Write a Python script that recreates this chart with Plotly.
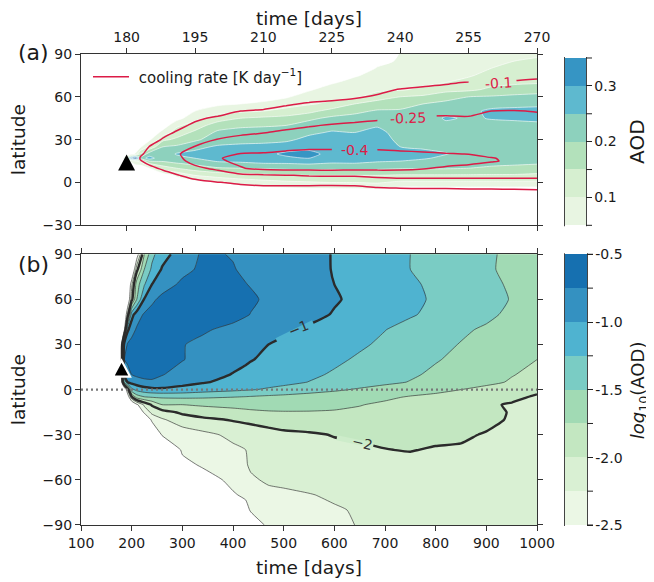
import plotly.graph_objects as go

FONT = "DejaVu Sans"
TXT = "#1a1a1a"

# ---------- panel (a): AOD and cooling rate, time 170..270 days ----------
time_a = [170, 179, 181, 182, 183, 185, 188, 191, 195, 200, 205, 210, 215, 220, 225, 230, 235, 240, 245, 250, 255, 260, 265, 270]
lat_a = [-30, -10, -5, 0, 5, 10, 15, 17, 20, 25, 30, 35, 40, 45, 50, 55, 60, 65, 70, 75, 80, 85, 90]

# one list per time, values listed along lat_a
aod_by_time = [
    [0, 0, 0, 0, 0, 0, 0, 0, 0, 0, 0, 0, 0, 0, 0, 0, 0, 0, 0, 0, 0, 0, 0],
    [0, 0, 0, 0, 0, 0, 0, 0, 0, 0, 0, 0, 0, 0, 0, 0, 0, 0, 0, 0, 0, 0, 0],
    [0, 0, 0, 0, 0, 0, .06, .34, .03, 0, 0, 0, 0, 0, 0, 0, 0, 0, 0, 0, 0, 0, 0],
    [0, 0, 0, 0, 0, 0, .10, .42, .06, 0, 0, 0, 0, 0, 0, 0, 0, 0, 0, 0, 0, 0, 0],
    [0, 0, 0, 0, 0, 0, .115, .22, .15, .04, 0, 0, 0, 0, 0, 0, 0, 0, 0, 0, 0, 0, 0],
    [0, 0, 0, 0, 0, .05, .2, .27, .225, .11, .04, 0, 0, 0, 0, 0, 0, 0, 0, 0, 0, 0, 0],
    [0, 0, 0, 0, .02, .125, .205, .215, .22, .2, .14, .07, .02, 0, 0, 0, 0, 0, 0, 0, 0, 0, 0],
    [0, 0, 0, .01, .06, .15, .22, .235, .255, .21, .16, .125, .09, .03, 0, 0, 0, 0, 0, 0, 0, 0, 0],
    [0, 0, 0, .03, .1, .175, .23, .25, .26, .24, .19, .16, .125, .085, .05, .01, 0, 0, 0, 0, 0, 0, 0],
    [0, 0, .01, .05, .12, .195, .255, .26, .27, .255, .23, .21, .175, .125, .08, .04, 0, 0, 0, 0, 0, 0, 0],
    [0, 0, .02, .07, .13, .2, .26, .27, .275, .26, .235, .22, .19, .15, .09, .05, .01, 0, 0, 0, 0, 0, 0],
    [0, 0, .03, .08, .14, .205, .27, .29, .285, .26, .24, .22, .195, .16, .1, .06, .03, 0, 0, 0, 0, 0, 0],
    [0, 0, .035, .09, .145, .21, .27, .29, .31, .275, .24, .22, .2, .165, .12, .075, .045, .01, 0, 0, 0, 0, 0],
    [0, 0, .04, .095, .15, .215, .275, .3, .315, .285, .265, .24, .22, .19, .135, .095, .07, .045, .01, 0, 0, 0, 0],
    [0, 0, .04, .1, .15, .21, .265, .275, .285, .28, .27, .255, .23, .21, .17, .11, .09, .07, .045, 0, 0, 0, 0],
    [0, 0, .04, .1, .15, .215, .265, .27, .275, .275, .265, .25, .235, .215, .19, .15, .09, .08, .065, .045, 0, 0, 0],
    [0, 0, .045, .105, .15, .21, .255, .26, .265, .27, .27, .265, .245, .225, .205, .175, .125, .09, .08, .065, .055, .03, .02],
    [0, 0, .025, .09, .145, .205, .25, .255, .26, .25, .24, .23, .225, .215, .205, .185, .15, .095, .085, .075, .065, .058, .052],
    [0, 0, .025, .09, .145, .205, .24, .255, .26, .245, .235, .23, .23, .225, .215, .2, .16, .11, .09, .08, .07, .06, .055],
    [0, 0, .025, .09, .145, .205, .23, .24, .252, .24, .235, .23, .24, .255, .235, .215, .18, .135, .1, .085, .075, .065, .06],
    [0, 0, .025, .09, .145, .2, .225, .23, .235, .235, .23, .23, .235, .245, .24, .22, .2, .14, .115, .095, .08, .07, .065],
    [0, 0, .025, .09, .145, .19, .225, .23, .23, .23, .23, .23, .24, .252, .258, .235, .205, .16, .135, .115, .1, .08, .07],
    [0, 0, .025, .09, .145, .185, .22, .225, .23, .23, .23, .23, .24, .255, .26, .24, .21, .175, .14, .125, .11, .1, .08],
    [0, 0, .025, .09, .14, .18, .215, .22, .23, .23, .23, .23, .24, .26, .265, .24, .215, .18, .145, .13, .115, .105, .095],
]

cooling_by_time = [
    [0, 0, 0, 0, 0, 0, 0, 0, 0, 0, 0, 0, 0, 0, 0, 0, 0, 0, 0, 0, 0, 0, 0],
    [0, 0, 0, 0, 0, 0, 0, 0, 0, 0, 0, 0, 0, 0, 0, 0, 0, 0, 0, 0, 0, 0, 0],
    [0, 0, 0, 0, 0, 0, 0, 0, 0, 0, 0, 0, 0, 0, 0, 0, 0, 0, 0, 0, 0, 0, 0],
    [0, 0, 0, 0, 0, 0, 0, 0, 0, 0, 0, 0, 0, 0, 0, 0, 0, 0, 0, 0, 0, 0, 0],
    [0, 0, 0, 0, 0, 0, -.09, -.11, -.08, 0, 0, 0, 0, 0, 0, 0, 0, 0, 0, 0, 0, 0, 0],
    [0, 0, 0, 0, 0, -.07, -.14, -.15, -.14, -.105, -.05, 0, 0, 0, 0, 0, 0, 0, 0, 0, 0, 0, 0],
    [0, 0, 0, 0, -.05, -.12, -.17, -.18, -.17, -.14, -.11, -.07, 0, 0, 0, 0, 0, 0, 0, 0, 0, 0, 0],
    [0, 0, 0, -.03, -.09, -.17, -.22, -.23, -.24, -.19, -.15, -.11, -.07, 0, 0, 0, 0, 0, 0, 0, 0, 0, 0],
    [0, 0, 0, -.06, -.15, -.23, -.28, -.29, -.29, -.255, -.19, -.16, -.12, -.08, 0, 0, 0, 0, 0, 0, 0, 0, 0],
    [0, 0, -.03, -.095, -.2, -.27, -.38, -.39, -.37, -.31, -.255, -.2, -.17, -.12, -.05, 0, 0, 0, 0, 0, 0, 0, 0],
    [0, 0, -.06, -.115, -.22, -.39, -.43, -.44, -.405, -.34, -.28, -.23, -.18, -.14, -.1, -.05, 0, 0, 0, 0, 0, 0, 0],
    [0, 0, -.07, -.125, -.23, -.44, -.47, -.48, -.41, -.35, -.31, -.245, -.2, -.16, -.115, -.05, 0, 0, 0, 0, 0, 0, 0],
    [0, 0, -.07, -.125, -.245, -.45, -.5, -.5, -.43, -.36, -.32, -.27, -.22, -.18, -.13, -.09, -.03, 0, 0, 0, 0, 0, 0],
    [0, 0, -.07, -.125, -.26, -.45, -.5, -.51, -.45, -.37, -.33, -.29, -.24, -.19, -.15, -.11, -.06, 0, 0, 0, 0, 0, 0],
    [0, 0, -.065, -.125, -.27, -.45, -.5, -.51, -.45, -.37, -.33, -.3, -.26, -.2, -.16, -.12, -.075, -.02, 0, 0, 0, 0, 0],
    [0, 0, -.07, -.125, -.27, -.44, -.5, -.5, -.44, -.37, -.34, -.31, -.27, -.22, -.17, -.13, -.09, -.04, 0, 0, 0, 0, 0],
    [0, 0, -.08, -.15, -.29, -.44, -.5, -.5, -.44, -.37, -.34, -.31, -.28, -.235, -.18, -.15, -.11, -.08, -.02, 0, 0, 0, 0],
    [0, 0, -.085, -.16, -.31, -.43, -.49, -.49, -.43, -.36, -.34, -.31, -.28, -.24, -.19, -.16, -.13, -.105, -.05, 0, 0, 0, 0],
    [0, 0, -.09, -.16, -.31, -.41, -.47, -.47, -.42, -.35, -.33, -.31, -.28, -.265, -.21, -.17, -.14, -.12, -.07, 0, 0, 0, 0],
    [0, 0, -.09, -.16, -.31, -.38, -.46, -.46, -.405, -.35, -.33, -.31, -.29, -.27, -.21, -.17, -.14, -.125, -.09, -.03, 0, 0, 0],
    [0, 0, -.095, -.16, -.31, -.36, -.44, -.44, -.398, -.34, -.32, -.31, -.29, -.265, -.21, -.17, -.15, -.13, -.105, -.04, 0, 0, 0],
    [0, 0, -.095, -.16, -.31, -.34, -.41, -.405, -.37, -.33, -.32, -.3, -.29, -.28, -.25, -.18, -.15, -.135, -.11, -.05, 0, 0, 0],
    [0, 0, -.097, -.16, -.31, -.33, -.38, -.38, -.35, -.33, -.31, -.3, -.29, -.28, -.255, -.19, -.16, -.14, -.115, -.06, 0, 0, 0],
    [0, 0, -.1, -.16, -.31, -.32, -.35, -.35, -.34, -.32, -.31, -.3, -.29, -.275, -.245, -.19, -.16, -.145, -.12, -.08, 0, 0, 0],
]

# ---------- panel (b): log10(AOD), time 100..1000 days ----------
time_b = [100, 178, 185, 192, 200, 210, 225, 240, 260, 300, 340, 400, 425, 435, 470, 500, 550, 600, 650, 700, 750, 800, 850, 900, 950, 1000]
lat_b = [-90, -80, -70, -60, -50, -40, -30, -20, -15, -10, -5, 0, 5, 10, 20, 30, 40, 50, 60, 70, 80, 90]

# one list per latitude, values listed along time_b
log_aod = [
    [-3, -3, -3, -3, -3, -3, -3, -3, -3, -3, -3, -3, -3, -2.7, -2.44, -2.41, -2.35, -2.29, -2.24, -2.23, -2.23, -2.23, -2.23, -2.23, -2.24, -2.24],
    [-3, -3, -3, -3, -3, -3, -3, -3, -3, -3, -3, -3, -2.6, -2.47, -2.42, -2.39, -2.33, -2.27, -2.23, -2.22, -2.21, -2.21, -2.21, -2.22, -2.22, -2.23],
    [-3, -3, -3, -3, -3, -3, -3, -3, -3, -3, -3, -2.53, -2.45, -2.42, -2.34, -2.3, -2.26, -2.22, -2.2, -2.18, -2.17, -2.17, -2.18, -2.19, -2.2, -2.21],
    [-3, -3, -3, -3, -3, -3, -3, -3, -3, -3, -2.65, -2.42, -2.34, -2.3, -2.2, -2.19, -2.17, -2.15, -2.14, -2.13, -2.12, -2.13, -2.14, -2.16, -2.17, -2.19],
    [-3, -3, -3, -3, -3, -3, -3, -3, -3, -2.6, -2.46, -2.34, -2.28, -2.2, -2.14, -2.12, -2.11, -2.1, -2.09, -2.08, -2.07, -2.08, -2.09, -2.12, -2.14, -2.16],
    [-3, -3, -3, -3, -3, -3, -3, -3, -3, -2.45, -2.38, -2.29, -2.25, -2.18, -2.12, -2.08, -2.06, -2.05, -2.03, -2.005, -1.99, -2.02, -2.03, -2.07, -2.1, -2.13],
    [-3, -3, -3, -3, -3, -3, -3, -3, -2.47, -2.38, -2.31, -2.2, -2.16, -2.14, -2.1, -2.06, -2.03, -1.99, -1.97, -1.95, -1.95, -1.94, -1.96, -2.02, -2.07, -2.1],
    [-3, -3, -3, -3, -3, -3, -3, -2.42, -2.28, -2.13, -2.06, -1.98, -1.95, -1.94, -1.89, -1.86, -1.85, -1.84, -1.85, -1.86, -1.87, -1.88, -1.9, -1.93, -2.03, -2.1],
    [-3, -3, -3, -3, -3, -3, -2.42, -2.19, -2.1, -1.95, -1.87, -1.81, -1.79, -1.78, -1.765, -1.76, -1.76, -1.77, -1.79, -1.82, -1.86, -1.9, -1.93, -1.96, -2.01, -2.09],
    [-3, -3, -3, -3, -2.9, -2.55, -2.2, -1.97, -1.75, -1.75, -1.72, -1.7, -1.69, -1.69, -1.68, -1.68, -1.69, -1.7, -1.74, -1.79, -1.84, -1.89, -1.93, -1.97, -2.02, -2.06],
    [-3, -3, -3, -2.75, -2.05, -1.65, -1.52, -1.49, -1.47, -1.46, -1.47, -1.5, -1.52, -1.53, -1.56, -1.58, -1.62, -1.65, -1.68, -1.71, -1.77, -1.81, -1.84, -1.89, -1.95, -2.03],
    [-3, -3, -3, -2.2, -1.32, -1.18, -1.1, -1.06, -1.05, -1.08, -1.14, -1.2, -1.225, -1.235, -1.28, -1.32, -1.39, -1.46, -1.53, -1.59, -1.64, -1.69, -1.75, -1.81, -1.87, -1.95],
    [-3, -3, -1.5, -.98, -.92, -.87, -.82, -.8, -.82, -.92, -.98, -1.06, -1.09, -1.11, -1.16, -1.19, -1.255, -1.32, -1.38, -1.45, -1.51, -1.58, -1.64, -1.7, -1.77, -1.85],
    [-3, -3, -1, -.88, -.75, -.7, -.66, -.66, -.74, -.83, -.91, -1.01, -1.05, -1.065, -1.11, -1.145, -1.21, -1.275, -1.34, -1.405, -1.47, -1.54, -1.605, -1.67, -1.74, -1.8],
    [-3, -3, -.76, -.68, -.63, -.6, -.59, -.6, -.64, -.74, -.82, -.93, -.97, -.99, -1.04, -1.08, -1.14, -1.21, -1.28, -1.345, -1.415, -1.485, -1.55, -1.61, -1.68, -1.75],
    [-3, -3, -.95, -.72, -.66, -.62, -.6, -.6, -.62, -.74, -.8, -.89, -.93, -.95, -1, -1.04, -1.1, -1.16, -1.22, -1.29, -1.36, -1.44, -1.51, -1.57, -1.62, -1.68],
    [-3, -3, -2.7, -1.05, -.85, -.72, -.64, -.6, -.58, -.62, -.72, -.81, -.85, -.87, -.92, -.96, -1.03, -1.1, -1.175, -1.245, -1.315, -1.39, -1.465, -1.53, -1.6, -1.66],
    [-3, -3, -3, -2.2, -1.1, -.87, -.72, -.66, -.6, -.58, -.6, -.67, -.73, -.755, -.81, -.855, -.935, -1.015, -1.085, -1.16, -1.23, -1.3, -1.39, -1.45, -1.55, -1.64],
    [-3, -3, -3, -2.85, -2.08, -1.5, -.98, -.8, -.68, -.6, -.58, -.63, -.7, -.72, -.785, -.83, -.91, -.98, -1.05, -1.13, -1.2, -1.28, -1.36, -1.43, -1.51, -1.66],
    [-3, -3, -3, -3, -2.3, -1.62, -1.27, -1, -.87, -.7, -.63, -.68, -.745, -.76, -.81, -.855, -.93, -1, -1.07, -1.15, -1.22, -1.29, -1.37, -1.44, -1.53, -1.66],
    [-3, -3, -3, -3, -3, -2.08, -1.5, -1.2, -.98, -.82, -.7, -.74, -.78, -.79, -.835, -.875, -.94, -1.01, -1.09, -1.17, -1.25, -1.32, -1.39, -1.47, -1.55, -1.65],
    [-3, -3, -3, -3, -3, -2.7, -1.75, -1.32, -1.09, -.88, -.72, -.76, -.79, -.8, -.84, -.88, -.945, -1.01, -1.09, -1.17, -1.25, -1.32, -1.39, -1.47, -1.54, -1.62],
]

# eruption site, shown by a triangle in both panels
source_time = 180
source_lat = 14
equator_time = [100, 1000]
equator_lat = [0, 0]

aod_levels = [0.05, 0.35, 0.05]
aod_major_ticks = [0.1, 0.2, 0.3]
aod_major_text = ["0.1", "0.2", "0.3"]
aod_minor_ticks = [0.05, 0.15, 0.25, 0.35]
log_levels = [-2.5, -0.5, 0.25]
log_major_ticks = [-2.5, -2.0, -1.5, -1.0, -0.5]
log_major_text = ["-2.5", "-2.0", "-1.5", "-1.0", "-0.5"]
log_minor_ticks = [-2.25, -1.75, -1.25, -0.75]
aod_colors = ["#e8f5e2", "#d6efd0", "#b3e1bb", "#8dd1bd", "#5eb9cf", "#3695c4"]
log_colors = ["#ebf7e5", "#d9f0d3", "#c3e7c1", "#a1dab4", "#7accc4", "#4fb3d0", "#3491c1", "#1670b0"]
extend_color = "#1c5fa0"
CRIMSON = "#dc1b47"

# inline contour labels: text, time, latitude, angle
cooling_labels = [("-0.1", 261.6, 70, -3), ("-0.25", 241.8, 45.5, -2), ("-0.4", 230, 22.6, 0)]
log_labels = [("−1", 530, 41, -22), ("−2", 655, -35.5, 13)]
# stretches of the contour lines left open for those labels: times, latitudes, colour behind
cooling_gaps = [
    ([255, 260, 265.5], [70.4, 70.8, 71.4], "#d6efd0"),
    ([235, 240, 245, 248], [43.3, 43.75, 46.4, 46.6], "#8dd1bd"),
    ([225, 230, 235], [23.1, 22.9, 22.9], "#5eb9cf"),
]
log_gaps = [
    ([486, 500, 550, 558], [32.7, 35, 43.2, 44.6], "#4fb3d0"),
    ([605, 650, 677], [-32, -35, -37.1], "#cdecca"),
]


def discrete(colors):
    """Stops for plotly's contour fill: nothing under the first and over the last level."""
    clear = "rgba(255,255,255,0)"
    all_c = [clear] + colors + [clear]
    n = len(all_c) - 1
    return [[i / n, c] for i, c in enumerate(all_c)]


aod_z = [list(r) for r in zip(*aod_by_time)]
cool_z = [list(r) for r in zip(*cooling_by_time)]

# page geometry (the page body adds 8 px on the left and top)
OFF = 8
W, H = 654 - OFF, 582 - OFF
L, R, T, B = 81 - OFF, 537 - OFF, 53.5 - OFF, 525 - OFF
PW, PH = R - L, B - T
A_BOTTOM = 225 - OFF
A_TOP_BAR = 57.5 - OFF
B_TOP = 254 - OFF
CB_X = 565 - OFF
CB_W_A, CB_W_B = 21, 22


def py(p):
    return (B - p) / PH


def px(p):
    return (p - L) / PW


def band_y(v, lo, hi, top, bottom):
    return bottom + (v - lo) / (hi - lo) * (top - bottom)


fig = go.Figure()

# (a) filled AOD
fig.add_trace(go.Contour(
    x=time_a, y=lat_a, z=aod_z, xaxis="x", yaxis="y", showlegend=False,
    contours=dict(coloring="fill", start=aod_levels[0], end=aod_levels[1], size=aod_levels[2], showlines=False),
    colorscale=discrete(aod_colors), line=dict(width=0), hoverinfo="skip",
    colorbar=dict(
        x=px(CB_X), xanchor="left", thickness=CB_W_A, thicknessmode="pixels",
        len=195.4, lenmode="pixels", y=py(A_TOP_BAR - 13.96), yanchor="top", ypad=0, xpad=0,
        outlinewidth=0, tickmode="array", tickvals=aod_major_ticks, ticktext=aod_major_text,
        ticks="outside", ticklen=6, tickwidth=1, tickcolor="#222",
        tickfont=dict(family=FONT, size=14, color=TXT),
    ),
))
# values above the last AOD level
fig.add_trace(go.Contour(
    x=time_a, y=lat_a, z=aod_z, xaxis="x", yaxis="y", showscale=False, showlegend=False,
    contours=dict(coloring="fill", start=0.35, end=0.35, size=0.05, showlines=False),
    colorscale=[[0, "rgba(255,255,255,0)"], [1, extend_color]], line=dict(width=0), hoverinfo="skip",
))
fig.add_trace(go.Contour(
    x=time_a, y=lat_a, z=aod_z, xaxis="x", yaxis="y", showscale=False, showlegend=False,
    contours=dict(coloring="none", start=aod_levels[0], end=aod_levels[1], size=aod_levels[2]),
    line=dict(color="rgba(255,255,255,0.6)", width=1, smoothing=0.6), hoverinfo="skip",
))
fig.add_trace(go.Contour(
    x=time_a, y=lat_a, z=cool_z, xaxis="x", yaxis="y", showscale=False, showlegend=False,
    contours=dict(coloring="none", start=-0.4, end=-0.1, size=0.15),
    line=dict(color=CRIMSON, width=1.5, smoothing=0.7), hoverinfo="skip",
))
for gap_t, gap_lat, gap_c in cooling_gaps:
    fig.add_trace(go.Scatter(x=gap_t, y=gap_lat, mode="lines", xaxis="x", yaxis="y", showlegend=False,
                             line=dict(color=gap_c, width=4.5), hoverinfo="skip"))
fig.add_trace(go.Scatter(
    x=[None], y=[None], mode="lines", xaxis="x", yaxis="y",
    line=dict(color=CRIMSON, width=1.5), name="\u00a0cooling rate [K day<sup>−1</sup>]", showlegend=True,
))

# (b) filled log10(AOD)
fig.add_trace(go.Contour(
    x=time_b, y=lat_b, z=log_aod, xaxis="x2", yaxis="y2", showlegend=False,
    contours=dict(coloring="fill", start=log_levels[0], end=log_levels[1], size=log_levels[2], showlines=False),
    colorscale=discrete(log_colors), line=dict(width=0), hoverinfo="skip",
    colorbar=dict(
        x=px(CB_X), xanchor="left", thickness=CB_W_B, thicknessmode="pixels",
        len=305, lenmode="pixels", y=py(B_TOP - 16.94), yanchor="top", ypad=0, xpad=0,
        outlinewidth=0, tickmode="array", tickvals=log_major_ticks, ticktext=log_major_text,
        ticks="outside", ticklen=6, tickwidth=1, tickcolor="#222",
        tickfont=dict(family=FONT, size=14, color=TXT),
    ),
))
fig.add_trace(go.Contour(
    x=time_b, y=lat_b, z=log_aod, xaxis="x2", yaxis="y2", showscale=False, showlegend=False,
    contours=dict(coloring="none", start=log_levels[0], end=log_levels[1], size=log_levels[2]),
    line=dict(color="rgba(50,50,50,0.65)", width=1, smoothing=0.5), hoverinfo="skip",
))
fig.add_trace(go.Contour(
    x=time_b, y=lat_b, z=log_aod, xaxis="x2", yaxis="y2", showscale=False, showlegend=False,
    contours=dict(coloring="none", start=-2, end=-1, size=1),
    line=dict(color="#2b2b2b", width=2.4, smoothing=0.5), hoverinfo="skip",
))
for gap_t, gap_lat, gap_c in log_gaps:
    fig.add_trace(go.Scatter(x=gap_t, y=gap_lat, mode="lines", xaxis="x2", yaxis="y2", showlegend=False,
                             line=dict(color=gap_c, width=5), hoverinfo="skip"))
fig.add_trace(go.Scatter(
    x=equator_time, y=equator_lat, mode="lines", xaxis="x2", yaxis="y2", showlegend=False,
    line=dict(color="#777777", width=2.2, dash="2px,3px"), hoverinfo="skip",
))

triangle = "M-8.5,-8 L8.5,-8 L0,8 Z"
shapes = [
    dict(type="path", xref="x", yref="y", xsizemode="pixel", ysizemode="pixel",
         xanchor=source_time, yanchor=source_lat, path=triangle,
         fillcolor="black", line=dict(width=0)),
    dict(type="path", xref="x2", yref="y2", xsizemode="pixel", ysizemode="pixel",
         xanchor=source_time, yanchor=source_lat, path=triangle,
         fillcolor="black", line=dict(color="white", width=2.2)),
    # colour bar outlines and extension arrow
    dict(type="rect", xref="paper", yref="paper", x0=px(CB_X), x1=px(CB_X + CB_W_A), y0=py(A_BOTTOM), y1=py(A_TOP_BAR),
         line=dict(color="#444", width=2)),
    dict(type="rect", xref="paper", yref="paper", x0=px(CB_X), x1=px(CB_X + CB_W_B), y0=py(B), y1=py(B_TOP),
         line=dict(color="#444", width=2)),
    dict(type="path", xref="paper", yref="paper", line=dict(color="#444", width=1), fillcolor=extend_color,
         path=f"M{px(CB_X)},{py(A_TOP_BAR)} L{px(CB_X + CB_W_A / 2)},{py(A_TOP_BAR - 4.5)} L{px(CB_X + CB_W_A)},{py(A_TOP_BAR)} Z"),
]
# unlabelled colour bar ticks
for v in aod_minor_ticks:
    yy = py(band_y(v, aod_levels[0], aod_levels[1], A_TOP_BAR, A_BOTTOM))
    shapes.append(dict(type="line", xref="paper", yref="paper", x0=px(CB_X + CB_W_A), x1=px(CB_X + CB_W_A + 6),
                       y0=yy, y1=yy, line=dict(color="#222", width=1)))
for v in log_minor_ticks + [log_levels[0], log_levels[1]]:
    yy = py(band_y(v, log_levels[0], log_levels[1], B_TOP, B))
    shapes.append(dict(type="line", xref="paper", yref="paper", x0=px(CB_X + CB_W_B), x1=px(CB_X + CB_W_B + 6),
                       y0=yy, y1=yy, line=dict(color="#222", width=1)))

axis_common = dict(
    showgrid=False, zeroline=False, showline=True, linecolor="#333333", linewidth=1.2,
    ticks="outside", ticklen=5, tickwidth=1, tickcolor="#333333", mirror="allticks",
    tickfont=dict(family=FONT, size=14, color=TXT),
)
TITLE_FONT = dict(family=FONT, size=18.5, color=TXT)
ytitle = dict(text="latitude", font=TITLE_FONT, standoff=13)

annotations = [
    dict(text="(a)", xref="paper", yref="paper", x=px(16 - OFF), y=py(52 - OFF), xanchor="left", yanchor="middle",
         showarrow=False, font=dict(family=FONT, size=22, color=TXT)),
    dict(text="(b)", xref="paper", yref="paper", x=px(16 - OFF), y=py(264 - OFF), xanchor="left", yanchor="middle",
         showarrow=False, font=dict(family=FONT, size=22, color=TXT)),
    dict(text="AOD", xref="paper", yref="paper", x=px(637 - OFF), y=py(141.5 - OFF), xanchor="center", yanchor="middle",
         textangle=-90, showarrow=False, font=dict(family=FONT, size=20, color=TXT)),
    dict(text="<i>log</i><sub>10</sub>(AOD)", xref="paper", yref="paper", x=px(653 - OFF), y=py(390 - OFF),
         xanchor="right", yanchor="middle", textangle=-90, showarrow=False,
         font=dict(family=FONT, size=18, color=TXT)),
]
for text, t, lat, ang in cooling_labels:
    annotations.append(dict(text=text, x=t, y=lat, xref="x", yref="y", showarrow=False, textangle=ang,
                            font=dict(family=FONT, size=14, color=CRIMSON)))
for text, t, lat, ang in log_labels:
    annotations.append(dict(text=text, x=t, y=lat, xref="x2", yref="y2", showarrow=False, textangle=ang,
                            font=dict(family=FONT, size=14, color="#333333")))

fig.update_layout(
    width=W, height=H, autosize=False, showlegend=True,
    paper_bgcolor="white", plot_bgcolor="white",
    margin=dict(l=L, r=W - R, t=T, b=H - B, pad=0, autoexpand=False),
    font=dict(family=FONT, size=14, color=TXT),
    xaxis=dict(domain=[0, 1], range=[170, 270], side="top", anchor="y", tick0=180, dtick=15,
               title=dict(text="time [days]", font=TITLE_FONT, standoff=4), **axis_common),
    yaxis=dict(domain=[py(A_BOTTOM), 1], range=[-30, 90], tick0=0, dtick=30, anchor="x", title=ytitle, **axis_common),
    xaxis2=dict(domain=[0, 1], range=[100, 1000], side="bottom", anchor="y2", tick0=100, dtick=100,
                title=dict(text="time [days]", font=TITLE_FONT, standoff=11), **axis_common),
    yaxis2=dict(domain=[0, py(B_TOP)], range=[-90, 90], tick0=0, dtick=30, anchor="x2", title=ytitle, **axis_common),
    legend=dict(x=px(88 - OFF), y=py(60 - OFF), xanchor="left", yanchor="top", bgcolor="rgba(0,0,0,0)",
                itemwidth=36, font=dict(family=FONT, size=15, color=TXT)),
    shapes=shapes,
    annotations=annotations,
)

fig.write_html("out.html")
